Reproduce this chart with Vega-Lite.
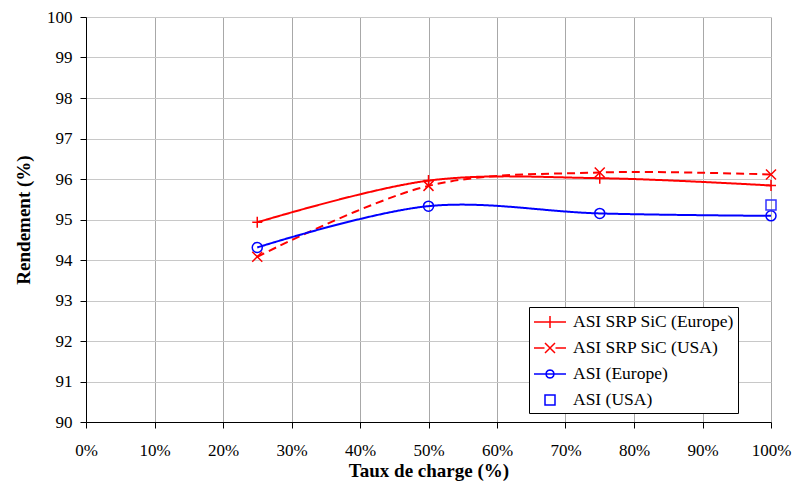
{
  "$schema": "https://vega.github.io/schema/vega-lite/v6.json",
  "width": 685,
  "height": 405,
  "autosize": "none",
  "padding": {"left": 86, "top": 17, "right": 21, "bottom": 69},
  "background": "white",
  "config": {
    "view": {"stroke": null},
    "font": "Liberation Serif",
    "axis": {
      "labelFont": "Liberation Serif",
      "labelFontSize": 17,
      "labelColor": "#000",
      "titleFont": "Liberation Serif",
      "titleFontSize": 19,
      "titleFontWeight": "bold",
      "titleColor": "#000",
      "domainColor": "#000",
      "domainWidth": 1,
      "tickColor": "#000",
      "tickSize": 6,
      "gridWidth": 1
    },
    "legend": {"labelFont": "Liberation Serif"}
  },
  "data": {
    "values": [
      {"series": "ASI SRP SiC (Europe)", "charge": 0.25, "rendement": 94.93},
      {"series": "ASI SRP SiC (Europe)", "charge": 0.5, "rendement": 95.96},
      {"series": "ASI SRP SiC (Europe)", "charge": 0.75, "rendement": 96.02},
      {"series": "ASI SRP SiC (Europe)", "charge": 1.0, "rendement": 95.84},
      {"series": "ASI SRP SiC (USA)", "charge": 0.25, "rendement": 94.08},
      {"series": "ASI SRP SiC (USA)", "charge": 0.5, "rendement": 95.83},
      {"series": "ASI SRP SiC (USA)", "charge": 0.75, "rendement": 96.16},
      {"series": "ASI SRP SiC (USA)", "charge": 1.0, "rendement": 96.11},
      {"series": "ASI (Europe)", "charge": 0.25, "rendement": 94.31},
      {"series": "ASI (Europe)", "charge": 0.5, "rendement": 95.33},
      {"series": "ASI (Europe)", "charge": 0.75, "rendement": 95.15},
      {"series": "ASI (Europe)", "charge": 1.0, "rendement": 95.09},
      {"series": "ASI (USA)", "charge": 1.0, "rendement": 95.36}
    ]
  },
  "encoding": {
    "x": {
      "field": "charge",
      "type": "quantitative",
      "scale": {"domain": [0, 1], "nice": false},
      "axis": {
        "title": "Taux de charge (%)",
        "values": [0, 0.1, 0.2, 0.3, 0.4, 0.5, 0.6, 0.7, 0.8, 0.9, 1],
        "format": ".0%",
        "grid": true,
        "gridColor": "#a8a8a8",
        "labelFont": "Liberation Serif",
        "titleFont": "Liberation Serif",
        "labelPadding": 14,
        "titlePadding": 3,
        "labelFlush": false
      }
    },
    "y": {
      "field": "rendement",
      "type": "quantitative",
      "scale": {"domain": [90, 100], "nice": false, "zero": false},
      "axis": {
        "title": "Rendement (%)",
        "values": [90, 90.5, 91, 91.5, 92, 92.5, 93, 93.5, 94, 94.5, 95, 95.5, 96, 96.5, 97, 97.5, 98, 98.5, 99, 99.5, 100],
        "labelExpr": "datum.value % 1 === 0 ? datum.label : ''",
        "format": "d",
        "grid": true,
        "gridColor": "#c8c8c8",
        "labelFont": "Liberation Serif",
        "titleFont": "Liberation Serif",
        "labelPadding": 8,
        "titlePadding": 13,
        "labelFlush": false
      }
    }
  },
  "layer": [
    {
      "transform": [{"filter": "datum.series !== 'ASI (USA)'"}],
      "mark": {"type": "line", "interpolate": "catmull-rom", "strokeWidth": 2},
      "encoding": {
        "color": {
          "field": "series",
          "type": "nominal",
          "scale": {"domain": ["ASI SRP SiC (Europe)", "ASI SRP SiC (USA)", "ASI (Europe)", "ASI (USA)"], "range": ["#ff0000", "#ff0000", "#0000ff", "#0000ff"]},
          "legend": null
        },
        "strokeDash": {
          "field": "series",
          "type": "nominal",
          "scale": {"domain": ["ASI SRP SiC (Europe)", "ASI SRP SiC (USA)", "ASI (Europe)", "ASI (USA)"], "range": [[1, 0], [8, 5], [1, 0], [1, 0]]},
          "legend": null
        }
      }
    },
    {
      "mark": {"type": "point", "filled": false, "strokeWidth": 1.5, "opacity": 1},
      "encoding": {
        "color": {
          "field": "series",
          "type": "nominal",
          "scale": {"domain": ["ASI SRP SiC (Europe)", "ASI SRP SiC (USA)", "ASI (Europe)", "ASI (USA)"], "range": ["#ff0000", "#ff0000", "#0000ff", "#3333ff"]},
          "legend": null
        },
        "shape": {
          "field": "series",
          "type": "nominal",
          "scale": {
            "domain": ["ASI SRP SiC (Europe)", "ASI SRP SiC (USA)", "ASI (Europe)", "ASI (USA)"],
            "range": ["M-1,0L1,0M0,-1.1L0,1.1", "M-1,-1L1,1M-1,1L1,-1", "circle", "square"]
          },
          "legend": null
        },
        "size": {
          "field": "series",
          "type": "nominal",
          "scale": {"domain": ["ASI SRP SiC (Europe)", "ASI SRP SiC (USA)", "ASI (Europe)", "ASI (USA)"], "range": [100, 100, 64, 90]},
          "legend": null
        }
      }
    },
    {
      "mark": {"type": "point", "filled": false, "opacity": 0, "size": 400, "strokeWidth": 1.5},
      "encoding": {
        "color": {
          "field": "series",
          "type": "nominal",
          "scale": {"domain": ["ASI SRP SiC (Europe)", "ASI SRP SiC (USA)", "ASI (Europe)", "ASI (USA)"], "range": ["#ff0000", "#ff0000", "#0000ff", "#0000ff"]},
          "legend": {
            "title": null,
            "orient": "none",
            "legendX": 443,
            "legendY": 290,
            "padding": 4,
            "fillColor": "white",
            "strokeColor": "#000",
            "labelFont": "Liberation Serif",
            "labelFontSize": 17.5,
            "labelColor": "#000",
            "labelOffset": 12,
            "symbolOffset": 6,
            "symbolSize": 400,
            "symbolStrokeWidth": 1.5,
            "symbolOpacity": 1,
            "rowPadding": 6,
            "labelLimit": 300
          }
        },
        "shape": {
          "field": "series",
          "type": "nominal",
          "scale": {
            "domain": ["ASI SRP SiC (Europe)", "ASI SRP SiC (USA)", "ASI (Europe)", "ASI (USA)"],
            "range": [
              "M-1.6,0L1.6,0M0,-0.6L0,0.6",
              "M-1.6,0L-0.55,0M0.55,0L1.6,0M-0.5,-0.5L0.5,0.5M-0.5,0.5L0.5,-0.5",
              "M-1.6,0L1.6,0M0.4,0L0.346,0.2L0.2,0.346L0,0.4L-0.2,0.346L-0.346,0.2L-0.4,0L-0.346,-0.2L-0.2,-0.346L0,-0.4L0.2,-0.346L0.346,-0.2Z",
              "M-0.5,-0.5L0.5,-0.5L0.5,0.5L-0.5,0.5Z"
            ]
          },
          "legend": {
            "title": null,
            "orient": "none",
            "legendX": 443,
            "legendY": 290,
            "padding": 4,
            "fillColor": "white",
            "strokeColor": "#000",
            "labelFont": "Liberation Serif",
            "labelFontSize": 17.5,
            "labelColor": "#000",
            "labelOffset": 12,
            "symbolOffset": 6,
            "symbolSize": 400,
            "symbolStrokeWidth": 1.5,
            "symbolOpacity": 1,
            "rowPadding": 6,
            "labelLimit": 300
          }
        }
      }
    }
  ],
  "resolve": {"scale": {"color": "independent", "shape": "independent", "strokeDash": "independent", "size": "independent"}}
}
